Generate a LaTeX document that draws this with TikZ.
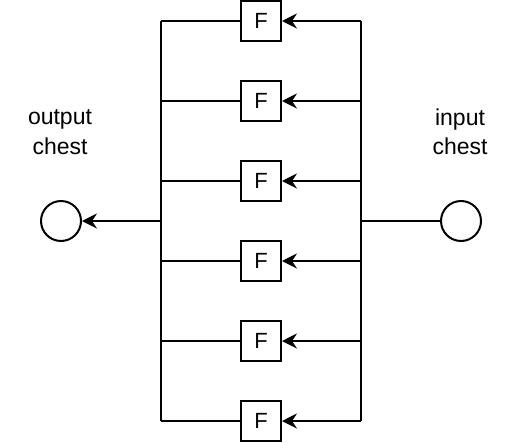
\documentclass[tikz,border=0pt]{standalone}
\usepackage{fontspec}
\setmainfont{Liberation Sans}
\usetikzlibrary{arrows.meta}
\begin{document}
\begin{tikzpicture}[x=1pt,y=-1pt,
  line width=2pt,
  fbox/.style={draw,fill=white,minimum width=40pt,minimum height=40pt,inner sep=0pt,font=\fontsize{22}{26}\selectfont},
  chest/.style={draw,circle,minimum size=40pt,inner sep=0pt},
  lbl/.style={align=center,font=\fontsize{23}{29.5}\selectfont},
  arr/.style={-{Stealth[length=15pt,width=15pt,inset=5pt]}}]
\useasboundingbox (0,0) rectangle (522,442);
\foreach \i/\y in {1/21,2/101,3/181,4/261,5/341,6/421}{
  \node[fbox] (f\i) at (261,\y) {F};
  \coordinate (l\i) at (161,\y);
  \coordinate (r\i) at (361,\y);
  \draw (l\i) -- (f\i.west);
  \draw[arr] (r\i) -- (f\i.east);
}
\draw (l1) -- (l6);
\draw (r1) -- (r6);
\node[chest] (out) at (61,221) {};
\node[chest] (in) at (461,221) {};
\coordinate (lm) at (161,221);
\coordinate (rm) at (361,221);
\draw[arr] (lm) -- (out.east);
\draw (rm) -- (in.west);
\node[lbl] (outl) at (60,132) {output\\chest};
\node[lbl] (inl) at (460,132) {input\\chest};
\end{tikzpicture}
\end{document}
